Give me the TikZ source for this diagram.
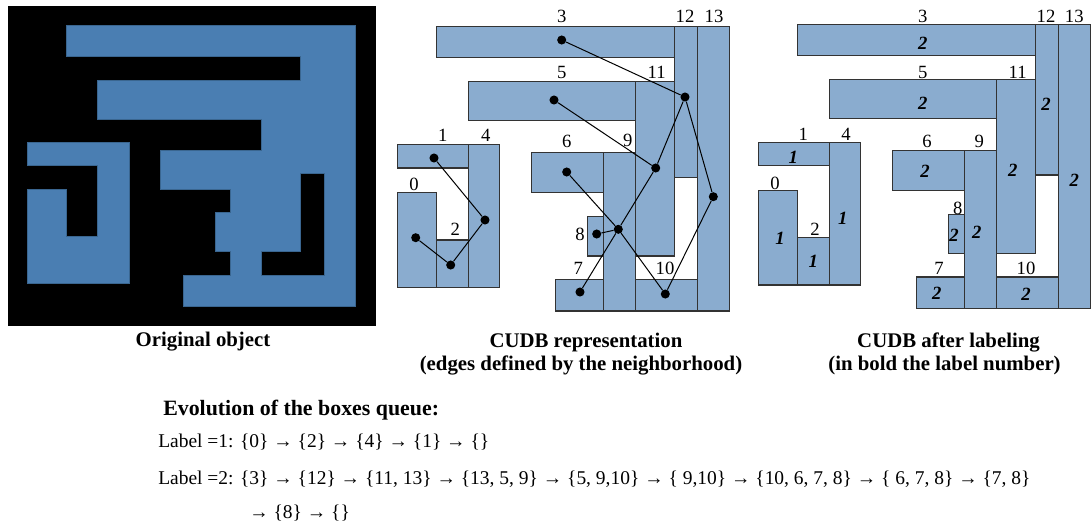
\documentclass[tikz,border=0pt]{standalone}
\usepackage{fontspec}
\setmainfont{Liberation Serif}
\usepackage{xcolor}
\definecolor{objblue}{HTML}{4A7EB2}
\definecolor{objedge}{HTML}{3A6690}
\definecolor{boxblue}{HTML}{8AACCF}
\definecolor{boxedge}{HTML}{333333}
\usepackage{tikz}
\usetikzlibrary{positioning}

% the CUDB boxes, drawn in the frame of the middle panel
\newcommand{\cudbboxes}{%
  \draw[cubox] (436.7,26.7) rectangle (674.3,57.7);   % 3
  \draw[cubox] (674.3,26.7) rectangle (697.3,177.3);  % 12
  \draw[cubox] (697.3,26.7) rectangle (729.3,311);    % 13
  \draw[cubox] (468.7,81.7) rectangle (635.3,120.7);  % 5
  \draw[cubox] (635.3,81.7) rectangle (674.3,256);    % 11
  \draw[cubox] (397.3,144.7) rectangle (468.7,168);   % 1
  \draw[cubox] (468.7,144.7) rectangle (499.7,287.3); % 4
  \draw[cubox] (397.3,192.7) rectangle (436.7,287.3); % 0
  \draw[cubox] (436.7,240) rectangle (468.7,287.3);   % 2
  \draw[cubox] (531.7,152.7) rectangle (603.3,192.7); % 6
  \draw[cubox] (603.3,152.7) rectangle (635.3,311);   % 9
  \draw[cubox] (587.7,216.7) rectangle (603.3,256);   % 8
  \draw[cubox] (555.7,279.3) rectangle (603.3,311);   % 7
  \draw[cubox] (635.3,279.3) rectangle (697.3,311);   % 10
}

\begin{document}
\begin{tikzpicture}[x=0.75pt, y=-0.75pt,
  objshape/.style={fill=objblue, draw=objedge, line width=0.5pt},
  cubox/.style={fill=boxblue, draw=boxedge, line width=0.8pt},
  dot/.style={circle, fill=black, inner sep=0pt, minimum size=6.8pt},
  link/.style={line width=0.75pt},
  idx/.style={font=\fontsize{14}{16}\selectfont, inner sep=0pt},
  lbl/.style={font=\fontsize{14}{16}\selectfont\bfseries\itshape, inner sep=0pt},
  caption/.style={font=\fontsize{15.6}{18}\selectfont\bfseries, inner sep=0pt},
  queue/.style={font=\fontsize{14.6}{18}\selectfont, inner sep=0pt, anchor=west}
]
\useasboundingbox (0,0) rectangle (1091,526);

% original object
\fill[black] (8,6) rectangle (376,326);
\draw[objshape, even odd rule]
  (66.7,25.3) -- (355.3,25.3) -- (355.3,306) -- (183.7,306) -- (183.7,275.3)
  -- (230.7,275.3) -- (230.7,251.7) -- (215,251.7) -- (215,212.7) -- (230.7,212.7)
  -- (230.7,189.3) -- (160.3,189.3) -- (160.3,150.3) -- (261.7,150.3) -- (261.7,119)
  -- (97.7,119) -- (97.7,80.3) -- (300.7,80.3) -- (300.7,56.7) -- (66.7,56.7) -- cycle
  (300.7,173.7) -- (324,173.7) -- (324,275.3) -- (261.7,275.3) -- (261.7,251.7)
  -- (300.7,251.7) -- cycle;
\draw[objshape]
  (27.3,142.3) -- (129,142.3) -- (129,283) -- (27.3,283) -- (27.3,189.3)
  -- (66.7,189.3) -- (66.7,236) -- (97.7,236) -- (97.7,165.7) -- (27.3,165.7) -- cycle;

% CUDB representation
\cudbboxes
\node[idx] (m3) at (561.7,16.7) {3};
\node[idx] (m12) at (685,16.7) {12};
\node[idx] (m13) at (714,16.7) {13};
\node[idx] (m5) at (561.7,72.7) {5};
\node[idx] (m11) at (656.7,72.7) {11};
\node[idx] (m1) at (442.7,135) {1};
\node[idx] (m4) at (485.7,135) {4};
\node[idx] (m6) at (566.7,141.7) {6};
\node[idx] (m9) at (627.7,140) {9};
\node[idx] (m0) at (414,184) {0};
\node[idx] (m2) at (455.3,229.3) {2};
\node[idx] (m8) at (580,234) {8};
\node[idx] (m7) at (578.3,268.3) {7};
\node[idx] (m10) at (665,268.3) {10};

\node[dot] (d0) at (415.7,237.7) {};
\node[dot] (d1) at (434,158) {};
\node[dot] (d2) at (450.7,265) {};
\node[dot] (d3) at (561.7,40) {};
\node[dot] (d4) at (485,220) {};
\node[dot] (d5) at (554,100) {};
\node[dot] (d6) at (566.7,172) {};
\node[dot] (d7) at (580,292) {};
\node[dot] (d8) at (596.7,234) {};
\node[dot] (d9) at (618.3,229.3) {};
\node[dot] (d10) at (665.3,294) {};
\node[dot] (d11) at (655.7,168) {};
\node[dot] (d12) at (685,97) {};
\node[dot] (d13) at (713.3,196.7) {};
\draw[link] (d0) -- (d2) -- (d4) -- (d1);
\draw[link] (d3) -- (d12) -- (d11) -- (d9) -- (d7);
\draw[link] (d12) -- (d13) -- (d10) -- (d9) -- (d6);
\draw[link] (d5) -- (d11);
\draw[link] (d9) -- (d8);

% CUDB after labeling
\begin{scope}[shift={(361,-2.3)}]
  \cudbboxes
\end{scope}
\node[idx] (r3) at (922.7,16.7) {3};
\node[idx] (r12) at (1046,16.7) {12};
\node[idx] (r13) at (1074.3,16.7) {13};
\node[idx] (r5) at (922.7,72.7) {5};
\node[idx] (r11) at (1017.7,72.7) {11};
\node[idx] (r1) at (803.3,134.3) {1};
\node[idx] (r4) at (846,134.3) {4};
\node[idx] (r6) at (927,141.7) {6};
\node[idx] (r9) at (979.3,141.7) {9};
\node[idx] (r0) at (775,183.3) {0};
\node[idx] (r2) at (815,229.3) {2};
\node[idx] (r8) at (957.7,208.3) {8};
\node[idx] (r7) at (939,268.3) {7};
\node[idx] (r10) at (1026,268.3) {10};

\node[lbl] (l3) at (922.7,43.3) {2};
\node[lbl] (l5) at (922.7,103.3) {2};
\node[lbl] (l12) at (1046,104) {2};
\node[lbl] (l11) at (1012.7,170) {2};
\node[lbl] (l13) at (1074.3,180) {2};
\node[lbl] (l1) at (793.3,157.3) {1};
\node[lbl] (l6) at (925,171.7) {2};
\node[lbl] (l0) at (780,238.3) {1};
\node[lbl] (l4) at (842.7,218.3) {1};
\node[lbl] (l8) at (954,235.7) {2};
\node[lbl] (l9) at (976.7,232.3) {2};
\node[lbl] (l2) at (813.3,261) {1};
\node[lbl] (l7) at (936.7,293.3) {2};
\node[lbl] (l10) at (1026,294.3) {2};

% captions
\node[caption] (capobj) at (203,342) {Original object};
\node[caption] (capcudb) at (586,342) {CUDB representation};
\node[caption] (subcudb) at (581,365) {(edges defined by the neighborhood)};
\node[caption] (caplab) at (948.5,342) {CUDB after labeling};
\node[caption] (sublab) at (944.5,365) {(in bold the label number)};

% queue evolution
\node[caption, anchor=west, font=\fontsize{16.4}{18}\selectfont\bfseries] (evol) at (163,410) {Evolution of the boxes queue:};
\node[queue] (q1) at (158,442) {Label =1: \{0\} → \{2\} → \{4\} → \{1\} → \{\}};
\node[queue] (q2) at (158,479) {Label =2: \{3\} → \{12\} → \{11, 13\} → \{13, 5, 9\} → \{5, 9,10\} → \{ 9,10\} → \{10, 6, 7, 8\} → \{ 6, 7, 8\} → \{7, 8\}};
\node[queue] (q3) at (249,513) {→ \{8\} → \{\}};
\end{tikzpicture}
\end{document}
